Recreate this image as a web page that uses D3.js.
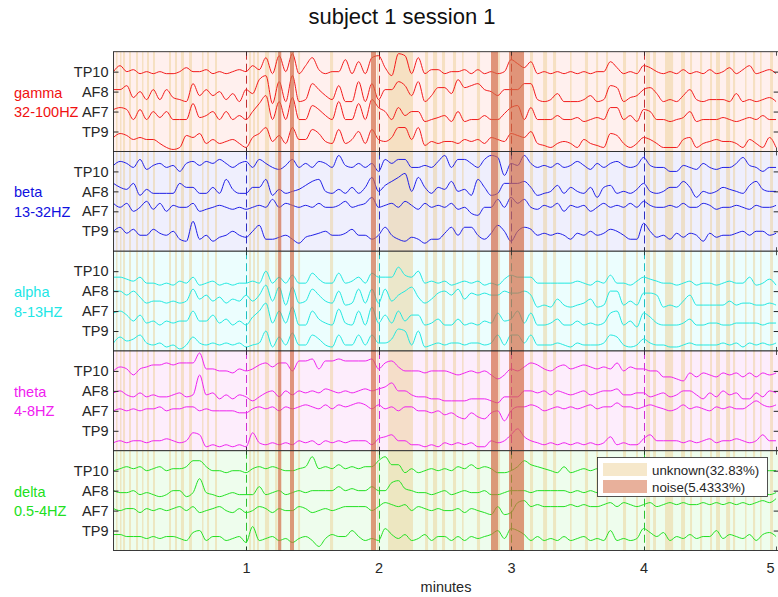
<!DOCTYPE html>
<html>
<head>
<meta charset="utf-8">
<script src="https://cdn.jsdelivr.net/npm/d3@7"></script>
<style>
  html, body { margin: 0; padding: 0; background: #ffffff; }
  svg { display: block; font-family: "Liberation Sans", Arial, Helvetica, sans-serif; }
</style>
</head>
<body>
<svg id="chart" width="778" height="597"></svg>
<script>
// ---------------- data ----------------
const titleText = "subject 1 session 1";
const xLabelText = "minutes";
const bands = ["gamma", "beta", "alpha", "theta", "delta"];
const bandRanges = ["32-100HZ", "13-32HZ", "8-13HZ", "4-8HZ", "0.5-4HZ"];
const channels = ["TP10", "AF8", "AF7", "TP9"];
const xTicks = [1, 2, 3, 4, 5];
const legendLabels = ["unknown(32.83%)", "noise(5.4333%)"];

// sample grid: one value every 0.05 min (3 s), 0 .. 5 min
const sampleMinutes = d3.range(101).map(i => i * 0.05);

// signal values (arbitrary amplitude units) per band / channel
const gammaTP10 = [0,3,0,1,-1,0,-1,0,-1,-1, 0,2,0,0,1,-1,0,-1,0,1, 0,3,1,7,-1,8,0,9,-1,3, 7,1,-1,0,0,6,-1,5,-1,7, 8,
  2,-2,9,8,-1,7,-1,1,1,-1, 0,0,1,-1,1,-1,0,-1,0,6, 4,2,5,-1,0,-1,0,-1,0,-1, 0,-1,0,0,5,2,-1,0,-1,3, 2,0,-1,0,-1,1,-1,0,-1,1, -1,0,2,-1,1,3,-1,0,1,-1];
const gammaAF8 = [1,1,3,-3,0,-4,1,-4,1,-3, -4,-5,4,-2,1,-2,0,-4,-1,-5, 1,-1,6,8,-6,5,-5,8,-5,-4, 4,1,-2,-4,3,-5,-5,5,-5,4, -4,
  1,1,5,3,-2,5,-5,-2,2,2, -1,6,2,3,4,1,0,-2,1,1, 1,4,4,-4,-5,-4,-1,-5,-5,-5, -4,-2,-5,-4,3,2,-5,-3,-2,1, 2,-1,-5,-4,-5,-2,1,-4,-5,-4, -4,-4,-5,-1,-5,-4,-5,-4,-3,-5];
const gammaAF7 = [1,2,1,-4,1,-4,0,-3,0,-4, -4,-4,4,-3,-2,0,-4,0,-4,-2, -4,0,4,8,-4,5,-4,7,-4,-4, 3,1,-2,-4,5,-4,-4,4,-4,6, 2,
  0,-4,2,-2,0,0,-5,-4,-3,-2, -5,0,-5,-4,-4,-2,-4,-4,-1,2, 3,-4,2,-4,-4,-4,-2,-4,-4,-3, -5,-4,-3,-4,2,2,-4,-2,-5,1, 0,-4,-4,-5,-4,-3,0,-5,-4,-4, -4,-3,-4,-5,-4,-3,-4,-2,-4,-4];
const gammaTP9 = [-3,-1,-2,-4,-3,-4,-4,-6,-8,-9, -8,-2,-3,-1,-6,-4,-6,-5,-4,-6, -8,-3,-1,2,-5,-2,-6,2,-4,-4, 1,-1,-5,-6,1,-6,-4,0,-6,1, -4,
  -5,-3,2,2,-4,2,-7,-5,-6,-5, -5,-6,-4,-5,-4,-6,-3,-4,-5,-1, -2,-3,0,-6,-7,-8,-6,-5,-6,-8, -4,-6,-7,-8,-1,-2,-6,-8,-6,-3, -4,-6,-8,-8,-8,-4,-3,-8,-6,-5, -4,-5,-5,-6,-8,-4,-6,-8,-3,-8];

const betaTP10 = [3,5,4,2,6,1,3,4,2,3, 0,4,5,3,5,4,6,4,2,4, 5,2,6,4,2,1,3,6,2,4, 2,5,4,2,8,3,2,4,2,4, 0,
  6,4,6,6,2,2,3,2,5,8, 2,6,6,4,2,6,8,7,-2,4, 3,8,4,2,3,2,4,2,3,5, 3,1,4,2,4,5,3,2,3,7, 3,2,2,0,0,3,2,1,4,2, 1,2,2,4,7,3,2,0,2,2];
const betaAF8 = [4,2,1,4,-2,1,-1,-1,-1,-1, 4,2,2,-1,-1,2,-1,6,1,-1, -1,2,2,6,-2,1,-1,0,1,3, 5,6,0,-1,1,-1,2,-1,2,7, 0,
  3,5,7,9,0,7,2,-1,2,1, 5,0,1,-2,6,2,-2,-1,4,4, 4,5,2,-2,-1,0,3,-1,2,0, -1,2,-3,2,3,-1,0,-1,1,4, 0,-1,0,2,2,5,2,-3,0,-1, 0,2,1,0,-1,3,5,1,0,0];
const betaAF7 = [4,2,4,0,2,5,1,4,0,3, 2,2,4,0,1,2,3,2,1,2, 1,2,3,2,6,2,4,3,2,3, 2,4,2,2,3,5,2,3,4,7, 2,
  3,4,2,5,3,1,4,2,3,2, 4,1,2,-1,-2,2,2,6,2,7, 4,6,2,1,3,2,4,0,3,2, 3,0,2,4,2,3,2,4,2,5, 3,2,2,3,2,4,2,2,4,3, 1,2,2,3,2,1,3,2,2,3];
const betaTP9 = [0,2,-1,1,-2,-2,1,-1,-2,0, -4,-5,5,-4,-2,-5,-3,-2,0,-2, -3,0,3,-4,-4,-3,-2,-4,-6,-3, -2,-1,0,-2,-2,-1,1,-2,-2,-4, -2,
  2,-2,-4,-5,-3,-4,-6,-4,-4,-1, 2,-2,2,2,-2,-4,-1,3,0,-5, 0,2,1,-2,-1,-2,-1,-2,-4,-1, -2,0,-2,-1,1,0,-2,-4,-4,4, 0,-3,-2,-4,-1,-3,-1,-2,-5,-1, -3,-2,-2,-1,0,-2,0,0,-2,-1];

const alphaTP10 = [-3,-3,-4,-5,-3,-6,-6,-7,-6,-7, -5,-6,-3,-7,-6,-5,-7,-6,-7,-6, -6,-5,-6,0,-6,-3,-6,-2,-6,-6, -1,-4,-6,-6,-1,-6,-5,-3,-6,-1, -3,
  -3,-3,2,-2,-3,0,-6,-5,-6,-5, -7,-6,-5,-6,-5,-7,-6,-7,-4,-2, -3,-3,-3,-6,-6,-6,-6,-6,-6,-5, -6,-7,-5,-6,-2,-6,-6,-7,-5,-3, -4,-5,-6,-6,-7,-6,-5,-7,-6,-6, -7,-6,-5,-6,-6,-3,-7,-6,-4,-7];
const alphaAF8 = [0,0,-2,0,-3,-6,-5,-5,-6,-5, -6,-5,1,-4,-2,-5,-3,-6,-4,-5, -2,-5,-2,3,-5,2,-7,2,-6,-5, 1,-2,-5,-6,0,-7,-6,1,-6,1, -6,
  1,-5,-2,0,2,-3,-6,-4,-1,0, -2,1,-4,-1,-2,-1,-2,-2,0,-1, -1,0,-2,-8,-7,-8,-4,-7,-8,-7, -6,-4,-8,-7,0,0,-7,-5,-7,-1, -1,-2,-8,-7,-8,-5,-2,-7,-7,-7, -7,-7,-5,-7,-6,-6,-7,-7,-6,-7];
const alphaAF7 = [-1,0,-2,-5,-2,-6,-5,-7,-5,-6, -5,-5,0,-5,-5,-2,-6,-4,-7,-5, -7,-3,0,4,-6,0,-6,2,-7,-7, 0,-4,-6,-7,1,-6,-7,0,-7,2, -6,
  -2,-6,0,-5,-2,-2,-7,-6,-4,-7, -7,-4,-7,-6,-7,-5,-6,-1,-5,-4, 0,-6,-1,-7,-7,-6,-4,-7,-7,-5, -7,-6,-7,-6,-1,0,-7,-5,-8,-1, -3,-6,-7,-7,-7,-6,-4,-7,-7,-6, -6,-7,-7,-6,-6,-6,-6,-7,-6,-6];
const alphaTP9 = [-6,-3,-5,-4,-2,-6,-7,-6,-8,-7, -9,-7,-3,-6,-7,-6,-7,-6,-7,-6, -8,-7,-6,0,-8,-3,-7,-1,-7,-7, -2,-4,-7,-8,-2,-7,-7,-2,-7,-2, -6,
  -6,-4,1,0,-7,0,-8,-7,-6,-7, -6,-6,-7,-6,-6,-7,-6,-2,-7,-2, -2,-6,-2,-7,-7,-7,-6,-7,-8,-6, -7,-7,-7,-6,-2,-3,-7,-8,-7,-4, -6,-7,-7,-8,-8,-7,-6,-7,-7,-7, -7,-6,-7,-6,-8,-6,-7,-6,-7,-6];

const thetaTP10 = [0,2,1,-2,1,2,3,3,4,3, 4,4,4,9,1,1,0,0,-1,1, 0,1,3,4,2,4,4,0,5,5, 6,1,5,5,6,5,5,5,5,6, 1,
  4,5,2,0,0,0,-1,0,0,0, -1,-2,-1,0,-1,0,-2,-4,-2,1, 0,2,4,3,1,0,2,3,1,2, 3,2,1,2,1,4,0,2,1,1, 0,0,-3,-3,-4,-5,-1,-3,-1,-2, -3,-1,-2,-1,-3,-1,-3,-1,-2,-1];
const thetaAF8 = [-1,0,-2,-3,-1,-3,-2,-3,-3,-2, -1,-3,-2,8,-2,-1,-4,-2,-4,-2, -3,-5,-3,-1,0,-3,0,-2,0,-1, 0,-1,1,0,-1,0,-1,0,1,0, 1,
  2,4,0,0,-2,-3,-3,-4,-4,-5, -5,-5,-5,-4,-4,-4,-5,-6,-3,-3, -3,0,0,-1,0,-2,0,-1,-2,-1, 0,-2,-1,0,0,1,-2,-2,-1,-1, -3,-2,-1,-3,-2,0,0,-2,-4,-1, -3,0,-2,-1,-4,-4,-1,-3,0,-1];
const thetaAF7 = [0,1,0,1,0,1,1,2,0,1, 1,2,2,0,1,0,0,0,0,-1, -1,1,2,1,2,0,2,1,2,3, 2,1,3,1,3,2,3,4,3,1, 3,
  1,2,0,2,2,0,0,-1,0,-2, -1,-3,-4,-1,-3,-4,-1,0,-5,0, 2,2,3,2,0,1,2,1,2,1, 2,3,1,2,2,4,2,2,1,2, 3,2,1,0,1,3,1,2,1,0, 2,1,2,1,1,3,5,3,2,3];
const thetaTP9 = [-6,-5,-6,-5,-5,-6,-5,-5,-4,-5, -6,-5,-1,-2,-8,-7,-8,-7,-8,-7, -8,-1,-6,-7,-6,-7,-6,-7,-5,-6, -5,-7,-5,-6,-5,-6,-5,-5,-5,-7, -4,
  -3,-2,-5,-5,-7,-7,-8,-7,-8,-6, -7,-6,-7,-6,-8,-8,-5,-6,-5,-2, 1,-3,-5,-6,-7,-6,-7,-6,-7,-6, -7,-6,-7,-6,-3,-7,-6,-7,-7,-4, -2,-5,-5,-5,-5,-6,-5,-6,-5,-4, -6,-5,-5,-4,-5,-6,-5,-2,-5,-5];

const deltaTP10 = [0,1,2,1,2,0,1,2,0,1, 1,2,5,5,2,0,0,-1,0,0, -1,1,2,1,2,1,0,0,1,2, 7,1,2,1,3,1,2,1,2,2, 5,
  7,3,3,-1,1,-1,0,1,0,1, 0,2,1,3,1,2,1,-1,-1,0, 2,5,3,2,1,0,-1,2,-1,0, 1,0,1,0,2,1,0,1,2,3, 1,0,1,0,-1,0,1,0,1,2, 0,1,0,1,2,1,0,0,0,0];
const deltaAF8 = [0,-1,-1,0,-2,-1,-2,-3,-2,0, 0,-3,-1,6,-1,-2,-3,-2,-1,-2, -2,-2,2,-2,-1,0,-2,-1,0,-1, 0,0,0,0,2,0,1,0,0,2, 0,
  0,4,5,1,0,-1,-1,-2,-1,0, -2,-1,0,-1,-1,0,-2,-2,-1,0, 0,0,-1,0,0,0,0,0,-1,0, -1,0,-1,0,-1,-2,0,-1,0,1, 0,-1,-2,-1,0,-1,0,-2,-1,0, -1,-2,-1,0,-1,-2,-1,-1,-2,-1];
const deltaAF7 = [1,0,1,1,-1,1,0,1,0,1, 2,0,2,-1,0,1,2,0,-1,1, -1,0,2,1,-1,1,0,0,2,1, -1,0,1,0,1,2,2,2,2,0, 2,
  4,3,2,3,0,2,1,0,1,0, 0,1,-1,1,0,-1,-2,2,-2,-1, 4,5,2,3,2,2,2,2,3,2, 3,2,2,3,4,2,4,3,2,3, 4,2,3,4,3,4,3,3,4,3, 4,3,4,3,4,3,4,5,4,6];
const deltaTP9 = [-2,-2,-3,-3,-3,-4,-3,-4,-3,-3, -4,-5,-1,0,-5,-3,-3,-5,-4,-3, -6,2,-5,-4,-3,-5,-4,-6,-4,-3, -5,-8,-4,-2,-3,-3,0,-3,-5,-4, -5,
  1,-2,-4,-2,-5,-4,-2,-5,-3,-3, -5,-3,-5,-3,-4,-3,-2,0,-4,1, 0,-2,-5,-3,-5,-4,-5,-3,-5,-4, -3,-5,-4,-5,0,-5,-4,-5,-4,1, -1,-3,-1,-5,-3,-4,-2,-4,-3,-3, 0,-4,-2,-3,-4,-2,-5,-2,-1,-3];

// labelled segments, in minutes [start, end]
const unknownSegments = [
  [0.019,0.030],[0.049,0.060],[0.072,0.087],[0.117,0.132],[0.170,0.185],[0.215,0.226],[0.253,0.268],[0.298,0.313],
  [0.419,0.434],[0.464,0.479],[0.509,0.532],[0.570,0.592],[0.668,0.679],[0.706,0.721],[0.766,0.781],
  [1.023,1.038],[1.053,1.068],[1.083,1.098],[1.143,1.174],[1.219,1.238],[1.393,1.408],[1.634,1.657],
  [1.989,2.000],[2.072,2.260],[2.351,2.374],[2.411,2.442],[2.479,2.502],[2.562,2.585],[2.630,2.642],[2.743,2.766],
  [2.902,2.917],[3.143,3.166],[3.242,3.272],[3.317,3.340],[3.445,3.457],[3.558,3.581],[3.642,3.657],[3.717,3.732],
  [3.845,3.868],[3.943,3.958],[4.019,4.049],[4.072,4.094],[4.162,4.223],[4.283,4.313],[4.351,4.366],[4.426,4.442],
  [4.502,4.517],[4.547,4.577],[4.623,4.653],[4.675,4.691],[4.766,4.777],[4.826,4.842],[4.879,4.891],[4.955,4.977]
];
const noiseSegments = [[1.242,1.266],[1.332,1.362],[1.943,1.981],[2.849,2.902],[2.985,3.098]];

const signals = {
  gamma: [gammaTP10, gammaAF8, gammaAF7, gammaTP9],
  beta:  [betaTP10, betaAF8, betaAF7, betaTP9],
  alpha: [alphaTP10, alphaAF8, alphaAF7, alphaTP9],
  theta: [thetaTP10, thetaAF8, thetaAF7, thetaTP9],
  delta: [deltaTP10, deltaAF8, deltaAF7, deltaTP9]
};

// ---------------- styles / layout ----------------
const bandColors = ["#f21b1b", "#1f1fe6", "#22e8e0", "#ee22ee", "#22e022"];
const dashColors = ["#c03030", "#3030c0", "#20c0c0", "#d030d0", "#30c030"];
const bgColors = ["#fff0ee", "#efeffd", "#ecfefe", "#fdedfc", "#eefded"];
const labelColors = ["#f01010", "#1010e0", "#20e6e6", "#f020f0", "#20e020"];
const channelOffsets = [40, 30, 20, 10];   // stacking positions inside a panel

const svg = d3.select("#chart");
svg.append("rect").attr("width", 778).attr("height", 597).attr("fill", "#ffffff");

const plotLeft = 113.5, plotRight = 778.7, plotTop = 51.7, plotBottom = 550.5;
const x = d3.scaleLinear().domain([0, 5.02]).range([plotLeft, plotRight]);
const panelScale = d3.scaleBand().domain(bands).range([plotTop, plotBottom]).paddingInner(0);
const crisp = v => Math.round(v) + 0.5;

const defs = svg.append("defs");
const axisColor = "#262626";

bands.forEach((band, bi) => {
  const top = panelScale(band);
  const h = panelScale.bandwidth();
  const y = d3.scaleLinear().domain([0, 50]).range([top + h, top]);
  const g = svg.append("g").attr("class", "panel-" + band);

  g.append("rect").attr("x", plotLeft).attr("y", top)
    .attr("width", plotRight - plotLeft).attr("height", h)
    .attr("fill", bgColors[bi]);

  // unknown segments (under traces)
  g.selectAll("rect.unknown").data(unknownSegments).join("rect")
    .attr("class", "unknown")
    .attr("x", d => x(d[0])).attr("y", top)
    .attr("width", d => Math.max(1, x(d[1]) - x(d[0]))).attr("height", h)
    .attr("fill", "rgb(236,205,140)").attr("fill-opacity", 0.45);

  // dashed minute lines
  g.selectAll("line.minute").data(xTicks.filter(t => t < 5)).join("line")
    .attr("class", "minute")
    .attr("x1", d => crisp(x(d))).attr("x2", d => crisp(x(d)))
    .attr("y1", top).attr("y2", top + h)
    .attr("stroke", dashColors[bi]).attr("stroke-width", 1)
    .attr("stroke-dasharray", "8,4");

  // traces
  const clipId = "clip-" + band;
  defs.append("clipPath").attr("id", clipId)
    .append("rect").attr("x", plotLeft).attr("y", top)
    .attr("width", plotRight - plotLeft).attr("height", h);

  signals[band].forEach((series, ci) => {
    const line = d3.line()
      .x((d, i) => x(sampleMinutes[i]))
      .y(d => y(channelOffsets[ci] + d))
      .curve(d3.curveMonotoneX);
    g.append("path").datum(series)
      .attr("d", line)
      .attr("fill", "none")
      .attr("stroke", bandColors[bi])
      .attr("stroke-width", 1)
      .attr("stroke-linejoin", "round")
      .attr("clip-path", "url(#" + clipId + ")");
  });

  // noise segments (over traces)
  g.selectAll("rect.noise").data(noiseSegments).join("rect")
    .attr("class", "noise")
    .attr("x", d => x(d[0])).attr("y", top)
    .attr("width", d => x(d[1]) - x(d[0])).attr("height", h)
    .attr("fill", "rgb(210,105,65)").attr("fill-opacity", 0.68);

  // left channel axis
  const yAxisL = d3.axisLeft(y).tickValues(channelOffsets).tickSize(-5)
    .tickFormat((d, i) => channels[i]);
  const axL = g.append("g").attr("transform", `translate(${plotLeft},0)`).call(yAxisL);
  axL.select(".domain").remove();
  axL.selectAll(".tick line").attr("stroke", axisColor);
  axL.selectAll(".tick text").attr("x", -5).attr("fill", "#262626")
    .style("font-size", "14.5px").style("font-family", "'Liberation Sans', Arial, sans-serif");

  // right ticks
  const yAxisR = d3.axisRight(y).tickValues(channelOffsets).tickSize(-5).tickFormat("");
  const axR = g.append("g").attr("transform", `translate(${plotRight},0)`).call(yAxisR);
  axR.select(".domain").remove();
  axR.selectAll(".tick line").attr("stroke", axisColor);

  // top / bottom minute ticks
  [top, top + h].forEach((yy, k) => {
    g.selectAll("line.xt" + k).data(xTicks).join("line")
      .attr("class", "xt" + k)
      .attr("x1", d => crisp(x(d))).attr("x2", d => crisp(x(d)))
      .attr("y1", yy).attr("y2", k === 0 ? yy + 4 : yy - 4)
      .attr("stroke", axisColor).attr("stroke-width", 0.8);
  });

  // panel border
  g.append("rect").attr("x", plotLeft).attr("y", top)
    .attr("width", plotRight - plotLeft).attr("height", h)
    .attr("fill", "none").attr("stroke", axisColor).attr("stroke-width", 0.9);

  // band labels
  g.append("text").attr("x", 14).attr("y", top + 46)
    .attr("fill", labelColors[bi]).style("font-size", "14.5px").text(band);
  g.append("text").attr("x", 14).attr("y", top + 65.5)
    .attr("fill", labelColors[bi]).style("font-size", "14.5px").text(bandRanges[bi]);
});

// bottom x axis labels
const xAxis = d3.axisBottom(x).tickValues(xTicks).tickSize(0).tickFormat(d3.format("d"));
const axB = svg.append("g").attr("transform", `translate(0,${plotBottom})`).call(xAxis);
axB.select(".domain").remove();
axB.selectAll(".tick text").attr("y", 12).attr("fill", "#262626")
  .style("font-size", "14.5px").style("font-family", "'Liberation Sans', Arial, sans-serif")
  .attr("text-anchor", d => d === 5 ? "end" : "middle")
  .attr("dx", d => d === 5 ? "-2" : "0");

svg.append("text").attr("x", 446).attr("y", 592).attr("text-anchor", "middle")
  .attr("fill", "#262626").style("font-size", "14.5px").text(xLabelText);

svg.append("text").attr("x", 402).attr("y", 24).attr("text-anchor", "middle")
  .attr("fill", "#111").style("font-size", "22px").text(titleText);

// legend
const lg = svg.append("g").attr("class", "legend");
lg.append("rect").attr("x", 597.5).attr("y", 457.5).attr("width", 170).attr("height", 39)
  .attr("fill", "#ffffff").attr("stroke", axisColor).attr("stroke-width", 0.8);
const legendFills = [["rgb(236,205,140)", 0.45], ["rgb(214,112,72)", 0.55]];
legendLabels.forEach((lab, i) => {
  lg.append("rect").attr("x", 603).attr("y", 463 + i * 17).attr("width", 44).attr("height", 13)
    .attr("fill", legendFills[i][0]).attr("fill-opacity", legendFills[i][1]);
  lg.append("text").attr("x", 652).attr("y", 474.5 + i * 17)
    .attr("fill", "#262626").style("font-size", "13.3px").text(lab);
});
</script>
</body>
</html>
